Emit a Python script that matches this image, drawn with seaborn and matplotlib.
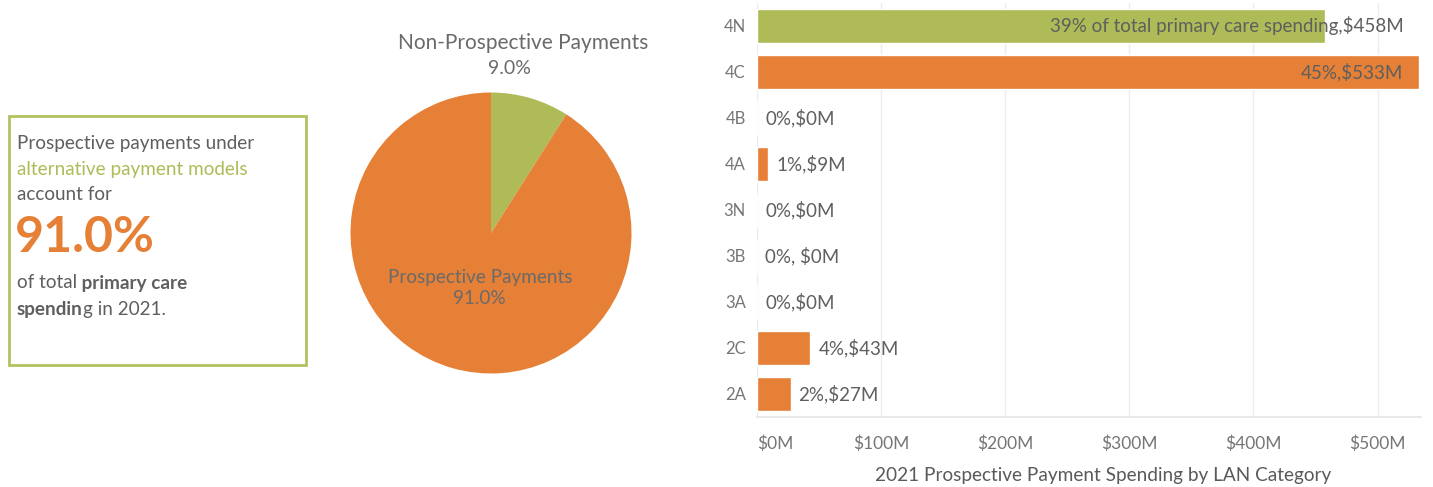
import matplotlib
matplotlib.use("Agg")
import matplotlib.pyplot as plt
import matplotlib.patches as patches
import pandas as pd
import seaborn as sns

# colours
ORANGE = "#E58036"
GREEN = "#AEBB56"
GREY = "#5f5f5f"

# pie data
pie_labels = ["Non-Prospective Payments", "Prospective Payments"]
pie_values = [9.0, 91.0]

# bar data (2021 prospective payment spending by LAN category, $M)
categories = ["4N", "4C", "4B", "4A", "3N", "3B", "3A", "2C", "2A"]
spending = [458, 533, 0, 9, 0, 0, 0, 43, 27]
bar_text = ["39% of total primary care spending,$458M", "45%,$533M", "0%,$0M",
            "1%,$9M", "0%,$0M", "0%, $0M", "0%,$0M", "4%,$43M", "2%,$27M"]
bar_colors = [GREEN, ORANGE, ORANGE, ORANGE, ORANGE, ORANGE, ORANGE, ORANGE, ORANGE]
x_ticks = [0, 100, 200, 300, 400, 500]

sns.set_theme(style="white")
plt.rcParams["font.family"] = ["Lato", "DejaVu Sans"]

fig = plt.figure(figsize=(14.33, 4.87), dpi=100)
W, H = 1433, 487

# ---- left text box
box = patches.Rectangle((9 / W, 1 - 365 / H), 297 / W, 249 / H, transform=fig.transFigure,
                        fill=False, edgecolor="#B3C160", linewidth=2)
fig.patches.append(box)

renderer = fig.canvas.get_renderer()


def text_runs(x_px, y_px, runs, size=13.6):
    x = x_px / W
    for s, weight, color in runs:
        t = fig.text(x, 1 - y_px / H, s, fontsize=size, fontweight=weight, color=color,
                     va="center", ha="left")
        x += t.get_window_extent(renderer).width / W


text_runs(17, 143, [("Prospective payments under", "normal", GREY)])
text_runs(17, 169, [("alternative payment models", "normal", GREEN)])
text_runs(17, 195, [("account for", "normal", GREY)])
fig.text(15 / W, 1 - 238 / H, "91.0%", fontsize=36, fontweight="bold", color=ORANGE,
         va="center", ha="left")
text_runs(17, 283, [("of total", "normal", GREY), (" primary care", "bold", GREY)])
text_runs(17, 310, [("spendin", "bold", GREY), ("g in 2021.", "normal", GREY)])

# ---- pie
r = 140.5
ax_pie = fig.add_axes([(491 - r) / W, (H - 233 - r) / H, 2 * r / W, 2 * r / H])
ax_pie.pie(pie_values, colors=[GREEN, ORANGE], startangle=90, counterclock=False,
           radius=1, wedgeprops=dict(linewidth=0))
ax_pie.set_xlim(-1, 1)
ax_pie.set_ylim(-1, 1)
ax_pie.axis("off")
ax_pie.text(0.23, 1.35, pie_labels[0], ha="center", va="center",
            fontsize=15, color="#6a6a6a", clip_on=False)
ax_pie.text(0.13, 1.17, f"{pie_values[0]:.1f}%", ha="center", va="center",
            fontsize=14, color="#6a6a6a", clip_on=False)
ax_pie.text(-0.08, -0.39, f"{pie_labels[1]}\n{pie_values[1]:.1f}%", ha="center", va="center",
            fontsize=13.6, color="#6a6a6a", linespacing=1.3, clip_on=False)

# ---- bars
df = pd.DataFrame({"cat": categories, "val": spending})
ax = fig.add_axes([757 / W, 1 - 417 / H, (1421 - 757) / W, 414 / H])
sns.barplot(data=df, y="cat", x="val", hue="cat", palette=bar_colors, orient="h",
            width=0.76, legend=False, ax=ax, saturation=1)
ax.set_xlim(0, 535)
ax.set_xticks(x_ticks)
ax.set_xticklabels([f"${v}M" for v in x_ticks])
ax.get_xticklabels()[0].set_horizontalalignment("left")
ax.grid(axis="x", color="#ececec", linewidth=1)
ax.set_axisbelow(True)
for s in ["top", "right", "left"]:
    ax.spines[s].set_visible(False)
ax.spines["bottom"].set_color("#e6e6e6")
ax.tick_params(axis="both", length=0, labelcolor="#767676")
ax.tick_params(axis="x", pad=13, labelsize=12.5)
ax.tick_params(axis="y", pad=8, labelsize=12)
ax.set_ylabel("")
ax.set_xlabel("2021 Prospective Payment Spending by LAN Category", fontsize=13.7,
              color="#5a5a5a")
ax.xaxis.set_label_coords(0.521, -(475 - 417) / 414)
ax.xaxis.label.set_verticalalignment("center")

for i, (v, s) in enumerate(zip(spending, bar_text)):
    if v > 300:
        ax.text(521, i, s, ha="right", va="center", fontsize=13.5, color=GREY)
    else:
        ax.text(v + 6.5, i, s, ha="left", va="center", fontsize=13.5, color=GREY)

fig.savefig("out.png", dpi=100)
